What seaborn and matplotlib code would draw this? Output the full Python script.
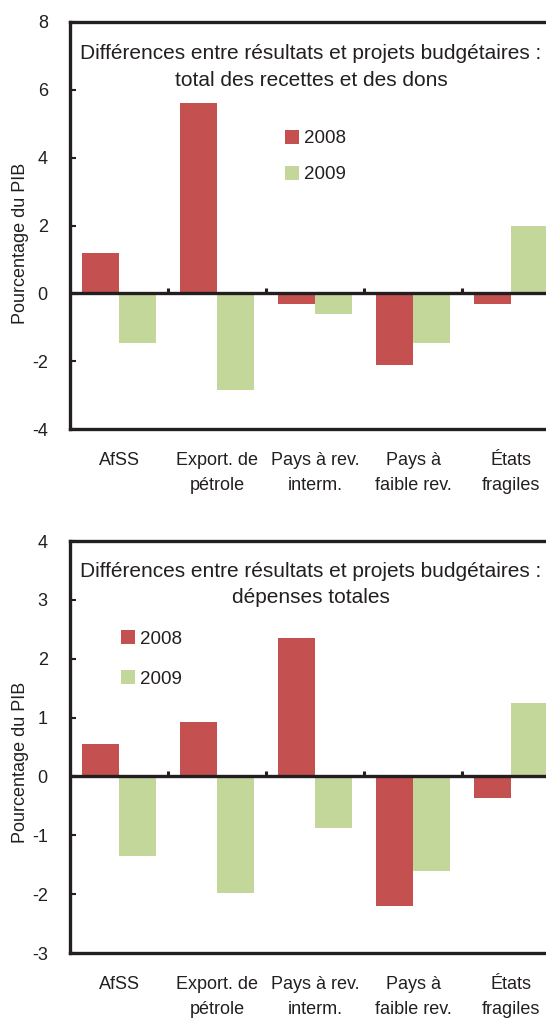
import numpy as np
import pandas as pd
import matplotlib
matplotlib.use("Agg")
import matplotlib.pyplot as plt
import seaborn as sns

# ==========================================================
# DATA
# ==========================================================

categories = ["AfSS", "Export. de\npétrole", "Pays à rev.\ninterm.",
              "Pays à\nfaible rev.", "États\nfragiles"]
years = ["2008", "2009"]

recettes_2008 = [1.2, 5.6, -0.3, -2.1, -0.3]
recettes_2009 = [-1.45, -2.85, -0.6, -1.45, 2.0]

depenses_2008 = [0.55, 0.92, 2.35, -2.2, -0.37]
depenses_2009 = [-1.35, -1.98, -0.88, -1.6, 1.25]

titles = [
    "Différences entre résultats et projets budgétaires :\ntotal des recettes et des dons",
    "Différences entre résultats et projets budgétaires :\ndépenses totales",
]
ylabel = "Pourcentage du PIB"

red = "#C4504F"
green = "#C4D79B"
ink = "#231F20"

# ==========================================================
# STYLE
# ==========================================================

sns.set_theme(style="white")
plt.rcParams["font.family"] = ["Liberation Sans", "DejaVu Sans"]
plt.rcParams["axes.unicode_minus"] = False
plt.rcParams["text.color"] = ink
plt.rcParams["axes.labelcolor"] = ink
plt.rcParams["xtick.color"] = ink
plt.rcParams["ytick.color"] = ink


def make_df(v08, v09):
    return pd.DataFrame({
        "cat": categories * 2,
        "year": [years[0]] * 5 + [years[1]] * 5,
        "val": v08 + v09,
    })


fig = plt.figure(figsize=(5.46, 10.19), dpi=100)

# axes positions in figure fraction (the right border is cut off in the original)
W, H = 546, 1019
ax1 = fig.add_axes([70 / W, 1 - 429 / H, 490 / W, (429 - 22) / H])
ax2 = fig.add_axes([70 / W, 1 - 953 / H, 490 / W, (953 - 541) / H])

panels = [
    # ax, data, ylim, step, title, title_y, legend anchor, legend spacing, ylabel y
    (ax1, make_df(recettes_2008, recettes_2009), (-4, 8), 2, titles[0], 0.8895,
     (0.439, 0.735), 1.0, 0.455),
    (ax2, make_df(depenses_2008, depenses_2009), (-3, 4), 1, titles[1], 0.8944,
     (0.104, 0.783), 1.2, 0.462),
]

for ax, df, ylim, step, title, title_y, leg_pos, leg_sp, ylab_y in panels:
    sns.barplot(data=df, x="cat", y="val", hue="year", palette=[red, green],
                width=0.75, gap=0, linewidth=0, saturation=1, ax=ax, zorder=2)

    ax.set_xlim(-0.5, 4.5)
    ax.set_ylim(*ylim)
    ax.set_yticks(np.arange(ylim[0], ylim[1] + step, step))
    ax.set_xticks(range(len(categories)))
    ax.set_xticklabels(categories, fontsize=13, linespacing=1.6)
    ax.tick_params(axis="x", length=0, pad=16.5)
    ax.tick_params(axis="y", direction="in", length=4, width=1.5, pad=16,
                   labelsize=13, left=True)

    for s in ["top", "bottom", "left", "right"]:
        ax.spines[s].set_color(ink)
        ax.spines[s].set_linewidth(2.4)

    # zero line with small category separators
    ax.axhline(0, color=ink, lw=2.4, zorder=4)
    h = (ylim[1] - ylim[0]) * 0.014
    ax.vlines(np.arange(0.5, 4.5, 1.0), 0, h, color=ink, lw=2.2, zorder=4)

    ax.set_xlabel("")
    ax.set_ylabel(ylabel, fontsize=13)
    ax.yaxis.set_label_coords(-0.084, ylab_y)

    ax.text(0.492, title_y, title, transform=ax.transAxes,
            ha="center", va="center", fontsize=15, linespacing=1.5)

    handles, labels = ax.get_legend_handles_labels()
    ax.legend(handles, labels, loc="upper left", bbox_to_anchor=leg_pos,
              frameon=False, fontsize=13.5, handlelength=0.75, handleheight=0.75,
              handletextpad=0.25, labelspacing=leg_sp, borderpad=0,
              borderaxespad=0)

plt.savefig("out.png", dpi=100)
plt.close()
